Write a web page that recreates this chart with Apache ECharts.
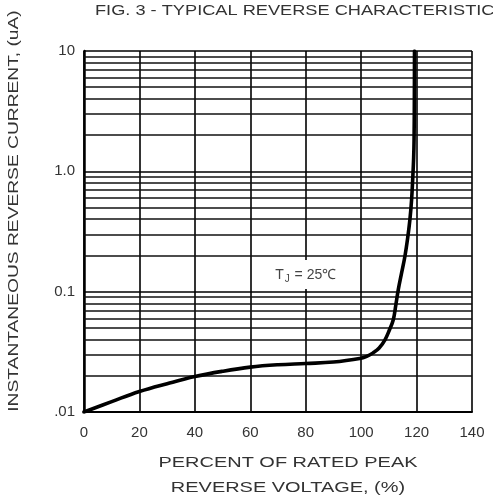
<!DOCTYPE html>
<html>
<head>
<meta charset="utf-8">
<script src="https://cdn.jsdelivr.net/npm/echarts@6/dist/echarts.min.js"></script>
<style>
html,body{margin:0;padding:0;background:#fff;}
#c{width:493px;height:501px;}
</style>
</head>
<body>
<div id="c"></div>
<script>
const xValues = [0, 10, 20, 30, 40, 50, 60, 70, 80, 90, 100, 102, 104.3, 106.5, 108.6, 110.2, 111.6, 112.5, 113.4, 114.6, 115.8, 116.8, 117.6, 118.2, 118.6, 118.95, 119.1, 119.2, 119.25];
const currentValues = [0.0100, 0.0122, 0.0148, 0.0172, 0.0197, 0.0218, 0.0236, 0.0247, 0.0253, 0.0260, 0.0280, 0.0290, 0.0310, 0.0340, 0.0398, 0.048, 0.0584, 0.077, 0.104, 0.143, 0.197, 0.28, 0.398, 0.58, 0.858, 1.3, 1.85, 4, 10];
const xTicks = [0, 20, 40, 60, 80, 100, 120, 140];
const yMajorLabels = {'0.01': '.01', '0.1': '0.1', '1': '1.0', '10': '10'};
const yMinorLines = [0.02,0.03,0.04,0.05,0.06,0.07,0.08,0.09,0.2,0.3,0.4,0.5,0.6,0.7,0.8,0.9,2,3,4,5,6,7,8,9];
const annotation = {x: 80, y: 0.139, text: 'T{sub|J} = 25℃'};
const titleText = 'FIG. 3 - TYPICAL REVERSE CHARACTERISTICS';
const xNameLines = ['PERCENT OF RATED PEAK', 'REVERSE VOLTAGE, (%)'];
const yName = 'INSTANTANEOUS REVERSE CURRENT, (uA)';

const chart = echarts.init(document.getElementById('c'));
const font = 'Liberation Sans, Arial, sans-serif';
const textColor = '#333';
chart.setOption({
  animation: false,
  backgroundColor: '#fff',
  graphic: [
    {type: 'text', x: 95, y: 4, scaleX: 1.3, silent: true,
     style: {text: titleText, font: '14px ' + font, fill: textColor, textAlign: 'left', textVerticalAlign: 'top'}},
    {type: 'text', x: 288, y: 463, scaleX: 1.33, silent: true,
     style: {text: xNameLines[0], font: '15px ' + font, fill: textColor, textAlign: 'center', textVerticalAlign: 'middle'}},
    {type: 'text', x: 288, y: 488, scaleX: 1.33, silent: true,
     style: {text: xNameLines[1], font: '15px ' + font, fill: textColor, textAlign: 'center', textVerticalAlign: 'middle'}},
    {type: 'text', x: 14, y: 211, rotation: Math.PI / 2, scaleX: 1.28, silent: true,
     style: {text: yName, font: '15px ' + font, fill: textColor, textAlign: 'center', textVerticalAlign: 'middle'}}
  ],
  grid: {left: 84, right: 21, top: 51, bottom: 89, show: false, outerBoundsMode: 'none', containLabel: false},
  xAxis: {
    type: 'value', min: 0, max: 140, interval: 20,
    axisLine: {show: true, lineStyle: {color: '#000', width: 2}},
    axisTick: {show: false},
    axisLabel: {fontFamily: font, fontSize: 15, color: textColor, margin: 13},
    splitLine: {show: true, lineStyle: {color: '#000', width: 1.6}}
  },
  yAxis: {
    type: 'log', logBase: 10, min: 0.01, max: 10,
    axisLine: {show: true, lineStyle: {color: '#000', width: 2.5}},
    axisTick: {show: false},
    axisLabel: {fontFamily: font, fontSize: 15, color: textColor, margin: 9,
      formatter: v => yMajorLabels[String(+v.toPrecision(3))] || ''},
    splitLine: {show: true, lineStyle: {color: '#000', width: 1.6}}
  },
  series: [{
    type: 'line',
    data: xValues.map((x, i) => [x, currentValues[i]]),
    smooth: 0.4,
    symbol: 'none',
    lineStyle: {color: '#000', width: 3.6, cap: 'round', join: 'round'},
    z: 5,
    markLine: {
      silent: true, symbol: 'none', animation: false,
      label: {show: false},
      lineStyle: {color: '#111', width: 1.6, type: 'solid'},
      data: yMinorLines.map(v => ({yAxis: v}))
    },
    markPoint: {
      silent: true, symbol: 'rect', symbolSize: 0,
      data: [{coord: [annotation.x, annotation.y]}],
      label: {
        show: true, position: 'inside', formatter: annotation.text,
        backgroundColor: '#fff', padding: [7, 6, 5, 6],
        fontFamily: font, fontSize: 14, color: '#444',
        rich: {sub: {fontSize: 10, verticalAlign: 'bottom', padding: [7, 1, 0, 1], fontFamily: font, color: '#444'}}
      }
    }
  }]
});
</script>
</body>
</html>
